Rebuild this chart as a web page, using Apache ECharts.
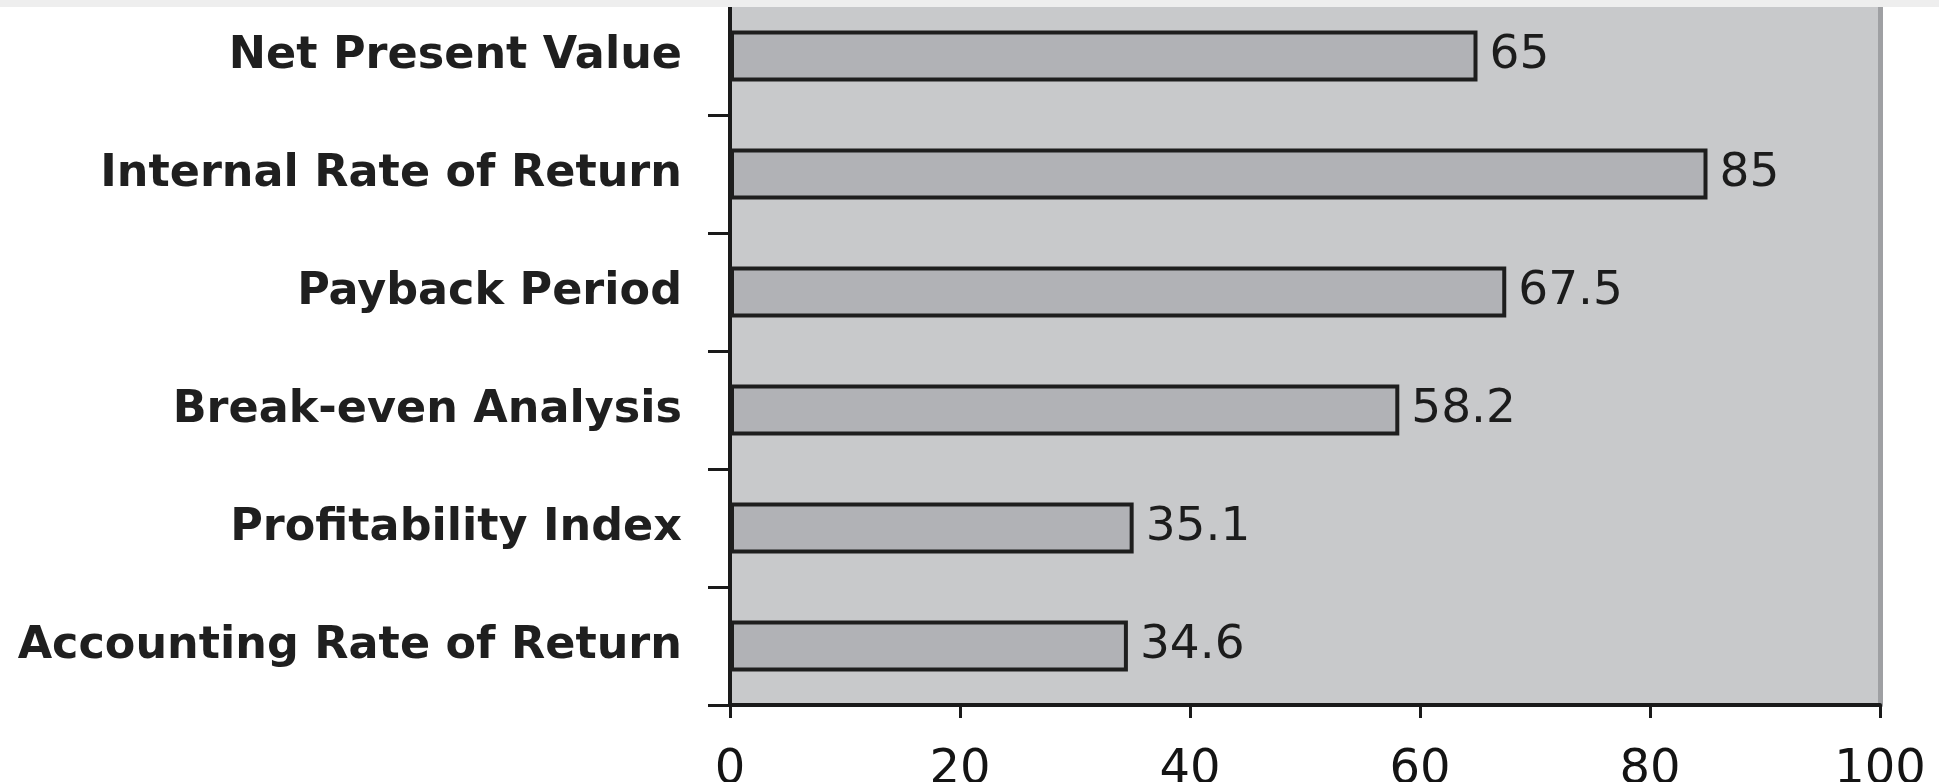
<!DOCTYPE html>
<html>
<head>
<meta charset="utf-8">
<script src="https://cdn.jsdelivr.net/npm/echarts@6/dist/echarts.min.js"></script>
<style>
html,body{margin:0;padding:0;background:#ffffff;}
#chart{width:1939px;height:782px;}
</style>
</head>
<body>
<div id="chart"></div>
<script>
const categories = ['Net Present Value','Internal Rate of Return','Payback Period','Break-even Analysis','Profitability Index','Accounting Rate of Return'];
const values = [65, 85, 67.5, 58.2, 35.1, 34.6];
const xMin = 0, xMax = 100, xStep = 20;

const chart = echarts.init(document.getElementById('chart'), null, {renderer:'canvas'});
chart.setOption({
  animation:false,
  grid:{left:730, right:59, top:-3, bottom:77, show:true, backgroundColor:'#c8c9cb', borderWidth:0, containLabel:false, outerBoundsMode:'none'},
  xAxis:{
    type:'value', min:xMin, max:xMax, interval:xStep,
    axisLine:{show:true, lineStyle:{color:'#1a1a1a', width:4}},
    axisTick:{show:true, length:13, lineStyle:{color:'#1a1a1a', width:3}},
    splitLine:{show:false},
    axisLabel:{fontFamily:'DejaVu Sans', fontSize:48, color:'#141414', margin:42}
  },
  yAxis:[{
    type:'category', data:categories, inverse:true,
    axisLine:{show:true, lineStyle:{color:'#1a1a1a', width:4}},
    axisTick:{show:true, length:22, lineStyle:{color:'#1a1a1a', width:3}},
    axisLabel:{fontFamily:'DejaVu Sans', fontWeight:'bold', fontSize:44.5, color:'#1f1f1f', margin:48, padding:[4,0,0,0]}
  },{
    type:'category', data:categories, inverse:true, position:'right',
    axisLine:{show:true, lineStyle:{color:'#9fa0a3', width:5}},
    axisTick:{show:false}, axisLabel:{show:false}, splitLine:{show:false}
  }],
  graphic:[{type:'rect', shape:{x:0,y:0,width:1939,height:7}, style:{fill:'#eeeeee'}, z:100}],
  series:[{
    type:'bar', data:values, barWidth:51, yAxisIndex:0,
    itemStyle:{color:'#b1b2b6', borderColor:'#1e1e1e', borderWidth:4},
    label:{show:true, position:'right', distance:12, fontFamily:'DejaVu Sans', fontSize:47, color:'#1c1c1c'}
  }]
});
</script>
</body>
</html>
